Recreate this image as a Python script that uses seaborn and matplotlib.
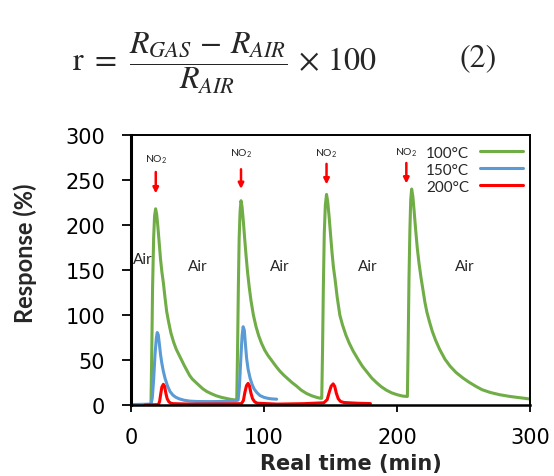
import matplotlib
matplotlib.use("Agg")
import matplotlib.pyplot as plt
import pandas as pd
import seaborn as sns

# Sensor response to NO2 pulses at three operating temperatures
t_100 = [15.0, 15.6, 16.2, 17.0, 17.7, 18.5, 19.3, 20.2, 21.2, 22.2, 23.2, 24.3, 25.5, 26.8, 28.3, 30.0, 32.0, 34.0,
         36.0, 38.0, 40.0, 42.0, 44.0, 46.0, 48.5, 51.0, 54.0, 57.0, 60.5, 64.0, 68.0, 72.0, 75.0, 78.5,
         79.5, 80.1, 80.7, 81.3, 82.0, 82.7, 83.5, 84.4, 85.4, 86.5, 87.6, 88.8, 90.2, 92.0, 94.0, 96.0, 98.0,
         100.5, 103.0, 106.0, 109.0, 112.0, 115.0, 118.0, 121.0, 124.5, 128.0, 132.0, 136.0, 140.0, 142.5,
         143.4, 144.0, 144.6, 145.3, 146.1, 147.0, 147.9, 148.9, 150.0, 151.1, 152.2, 153.4, 155.0, 157.0, 159.0,
         161.5, 164.0, 167.0, 171.0, 174.0, 177.5, 181.0, 184.5, 188.0, 192.0, 196.0, 200.0, 204.0, 207.3,
         207.8, 208.4, 209.0, 209.7, 210.3, 211.0, 211.9, 212.9, 214.0, 215.2, 216.5, 218.0, 219.5, 221.0, 222.5,
         224.5, 226.5, 229.0, 232.0, 236.0, 240.0, 244.5, 249.6, 254.0, 259.0, 264.0, 270.0, 277.0, 285.0, 293.0, 301.0]
r_100 = [0.0, 60.0, 130.0, 185.0, 210.0, 218.0, 212.0, 198.0, 180.0, 162.0, 148.0, 136.0, 120.0, 104.0, 92.0, 80.0, 70.0, 62.0,
         56.0, 50.0, 44.0, 38.5, 33.0, 29.0, 25.5, 22.0, 18.0, 15.0, 12.5, 10.3, 8.5, 7.2, 6.3, 5.5,
         6.0, 60.0, 130.0, 185.0, 215.0, 227.0, 220.0, 205.0, 186.0, 166.0, 148.0, 132.0, 116.0, 100.0, 87.0, 77.0, 69.0,
         61.0, 55.0, 49.0, 43.0, 37.5, 33.0, 29.0, 25.0, 21.0, 16.5, 12.8, 10.2, 8.3, 7.5,
         7.5, 60.0, 130.0, 190.0, 222.0, 234.0, 226.0, 210.0, 190.0, 170.0, 153.0, 140.0, 120.0, 100.0, 89.0,
         78.0, 69.0, 60.0, 50.0, 43.0, 36.5, 30.0, 25.0, 20.5, 16.5, 13.5, 11.5, 10.0, 9.5,
         9.5, 70.0, 140.0, 195.0, 228.0, 240.0, 232.0, 215.0, 195.0, 175.0, 158.0, 142.0, 128.0, 114.0, 103.0,
         92.0, 82.0, 72.0, 62.0, 51.0, 43.0, 36.0, 30.0, 25.5, 21.0, 17.0, 14.0, 11.5, 9.5, 8.0, 6.5]

t_150 = [0.0, 10.0, 15.0, 16.0, 17.0, 18.0, 19.0, 19.7, 20.5, 21.3, 22.2, 23.1, 24.3, 25.6, 27.5, 29.3, 31.5, 33.5, 36.0,
         40.0, 44.4, 50.0, 60.0, 70.0, 78.0,
         80.5, 81.5, 82.5, 83.5, 84.3, 85.2, 86.0, 86.9, 88.0, 89.5, 91.0, 92.5, 94.5, 97.0, 100.0, 103.0, 106.0, 109.5]
r_150 = [0.5, 0.8, 1.0, 8.0, 28.0, 55.0, 74.0, 80.5, 78.0, 68.0, 56.0, 47.0, 37.5, 29.6, 21.0, 15.0, 11.0, 8.8, 7.0,
         5.3, 4.3, 3.9, 3.8, 4.0, 4.5,
         5.5, 20.0, 50.0, 77.0, 87.0, 83.0, 68.0, 52.0, 40.0, 30.0, 23.0, 18.0, 14.0, 10.5, 8.5, 7.4, 6.8, 6.5]

t_200 = [10.5, 20.6, 21.5, 22.3, 23.2, 24.3, 25.3, 26.2, 27.2, 28.5, 30.0, 31.8, 45.0, 70.0,
         83.0, 84.5, 85.6, 86.8, 88.0, 89.1, 90.2, 91.4, 93.0, 95.0,
         110.0, 130.0, 145.0, 147.5, 149.0, 150.5, 152.0, 153.2, 154.4, 155.8, 157.5, 160.0, 170.0, 180.0]
r_200 = [0.0, 0.5, 4.0, 12.0, 20.0, 23.0, 20.5, 13.0, 7.0, 3.5, 2.0, 1.5, 1.0, 1.2,
         1.5, 5.0, 14.0, 21.5, 24.0, 21.0, 13.0, 7.0, 3.5, 2.0,
         1.0, 1.5, 2.5, 6.0, 14.0, 21.0, 23.5, 20.5, 13.0, 7.0, 4.0, 2.8, 2.0, 1.6]

series_labels = ["100°C", "150°C", "200°C"]
series_colors = ["#70AD47", "#5B9BD5", "#FF0000"]

# Gas-switching annotations
air_x = [8.5, 50.0, 112.0, 178.0, 251.0]
air_y = [162.0, 155.0, 155.0, 155.0, 155.0]
no2_x = [18.6, 82.7, 147.0, 207.0]
no2_arrow_top = [262.0, 265.0, 271.0, 272.0]
no2_arrow_tip = [232.0, 237.0, 242.0, 243.0]
no2_label_y = [274.0, 280.0, 280.0, 281.0]

x_ticks = [0, 100, 200, 300]
y_ticks = [0, 50, 100, 150, 200, 250, 300]

df = pd.concat([
    pd.DataFrame({"time": t, "response": r, "temp": lab})
    for t, r, lab in zip([t_100, t_150, t_200], [r_100, r_150, r_200], series_labels)
], ignore_index=True)

sns.set_style("ticks")
plt.rcParams["font.family"] = ["Lato", "DejaVu Sans"]

fig = plt.figure(figsize=(5.54, 4.77), dpi=100)
ax = fig.add_axes([0.2365, 0.1488, 0.7202, 0.5661])

sns.lineplot(data=df, x="time", y="response", hue="temp", hue_order=series_labels,
             palette=series_colors, sort=False, estimator=None, linewidth=2.2, ax=ax)

ax.set_xlim(0, 300)
ax.set_ylim(0, 300)
ax.set_xticks(x_ticks)
ax.set_yticks(y_ticks)
ax.tick_params(axis="both", labelsize=15, colors="black", width=1.3)
ax.tick_params(axis="y", length=6.5, pad=12)
ax.tick_params(axis="x", length=5, pad=11)
for lab in ax.get_xticklabels() + ax.get_yticklabels():
    lab.set_family("DejaVu Sans")
for side, lw in [("left", 2.2), ("bottom", 1.8), ("top", 1.4), ("right", 1.4)]:
    ax.spines[side].set_visible(True)
    ax.spines[side].set_linewidth(lw)
    ax.spines[side].set_color("black")

ax.set_xlabel("Real time (min)", fontsize=15, fontweight="bold", family="DejaVu Sans")
ax.xaxis.set_label_coords(0.552, -0.178)
ax.set_ylabel("Response (%)", fontsize=17, fontweight="bold")
ax.yaxis.set_label_coords(-0.236, 0.567)

handles, labels = ax.get_legend_handles_labels()
ax.legend(handles, labels, loc="upper right", bbox_to_anchor=(1.008, 1.0), markerfirst=False,
          frameon=False, fontsize=11, handlelength=2.8, handletextpad=0.7,
          labelspacing=0.2, borderaxespad=0.3)

for x, y in zip(air_x, air_y):
    ax.text(x, y, "Air", ha="center", va="center", fontsize=11)

for x, top, tip, ly in zip(no2_x, no2_arrow_top, no2_arrow_tip, no2_label_y):
    ax.annotate("", xy=(x, tip), xytext=(x, top),
                arrowprops=dict(arrowstyle="-|>", color="red", lw=1.8, mutation_scale=8))
    ax.text(x, ly, r"NO$_\mathregular{2}$", ha="center", va="center", fontsize=7.5)

# Response definition shown above the plot
fig.text(0.13, 0.868, r"$\mathrm{r}\ =\ \dfrac{R_{GAS}\,-\,R_{AIR}}{R_{AIR}}\,\times\,100$",
         fontsize=23, math_fontfamily="stix", ha="left", va="center")
fig.text(0.83, 0.878, "(2)", fontsize=23, family="STIXGeneral", ha="left", va="center")

fig.savefig("out.png", dpi=100)
